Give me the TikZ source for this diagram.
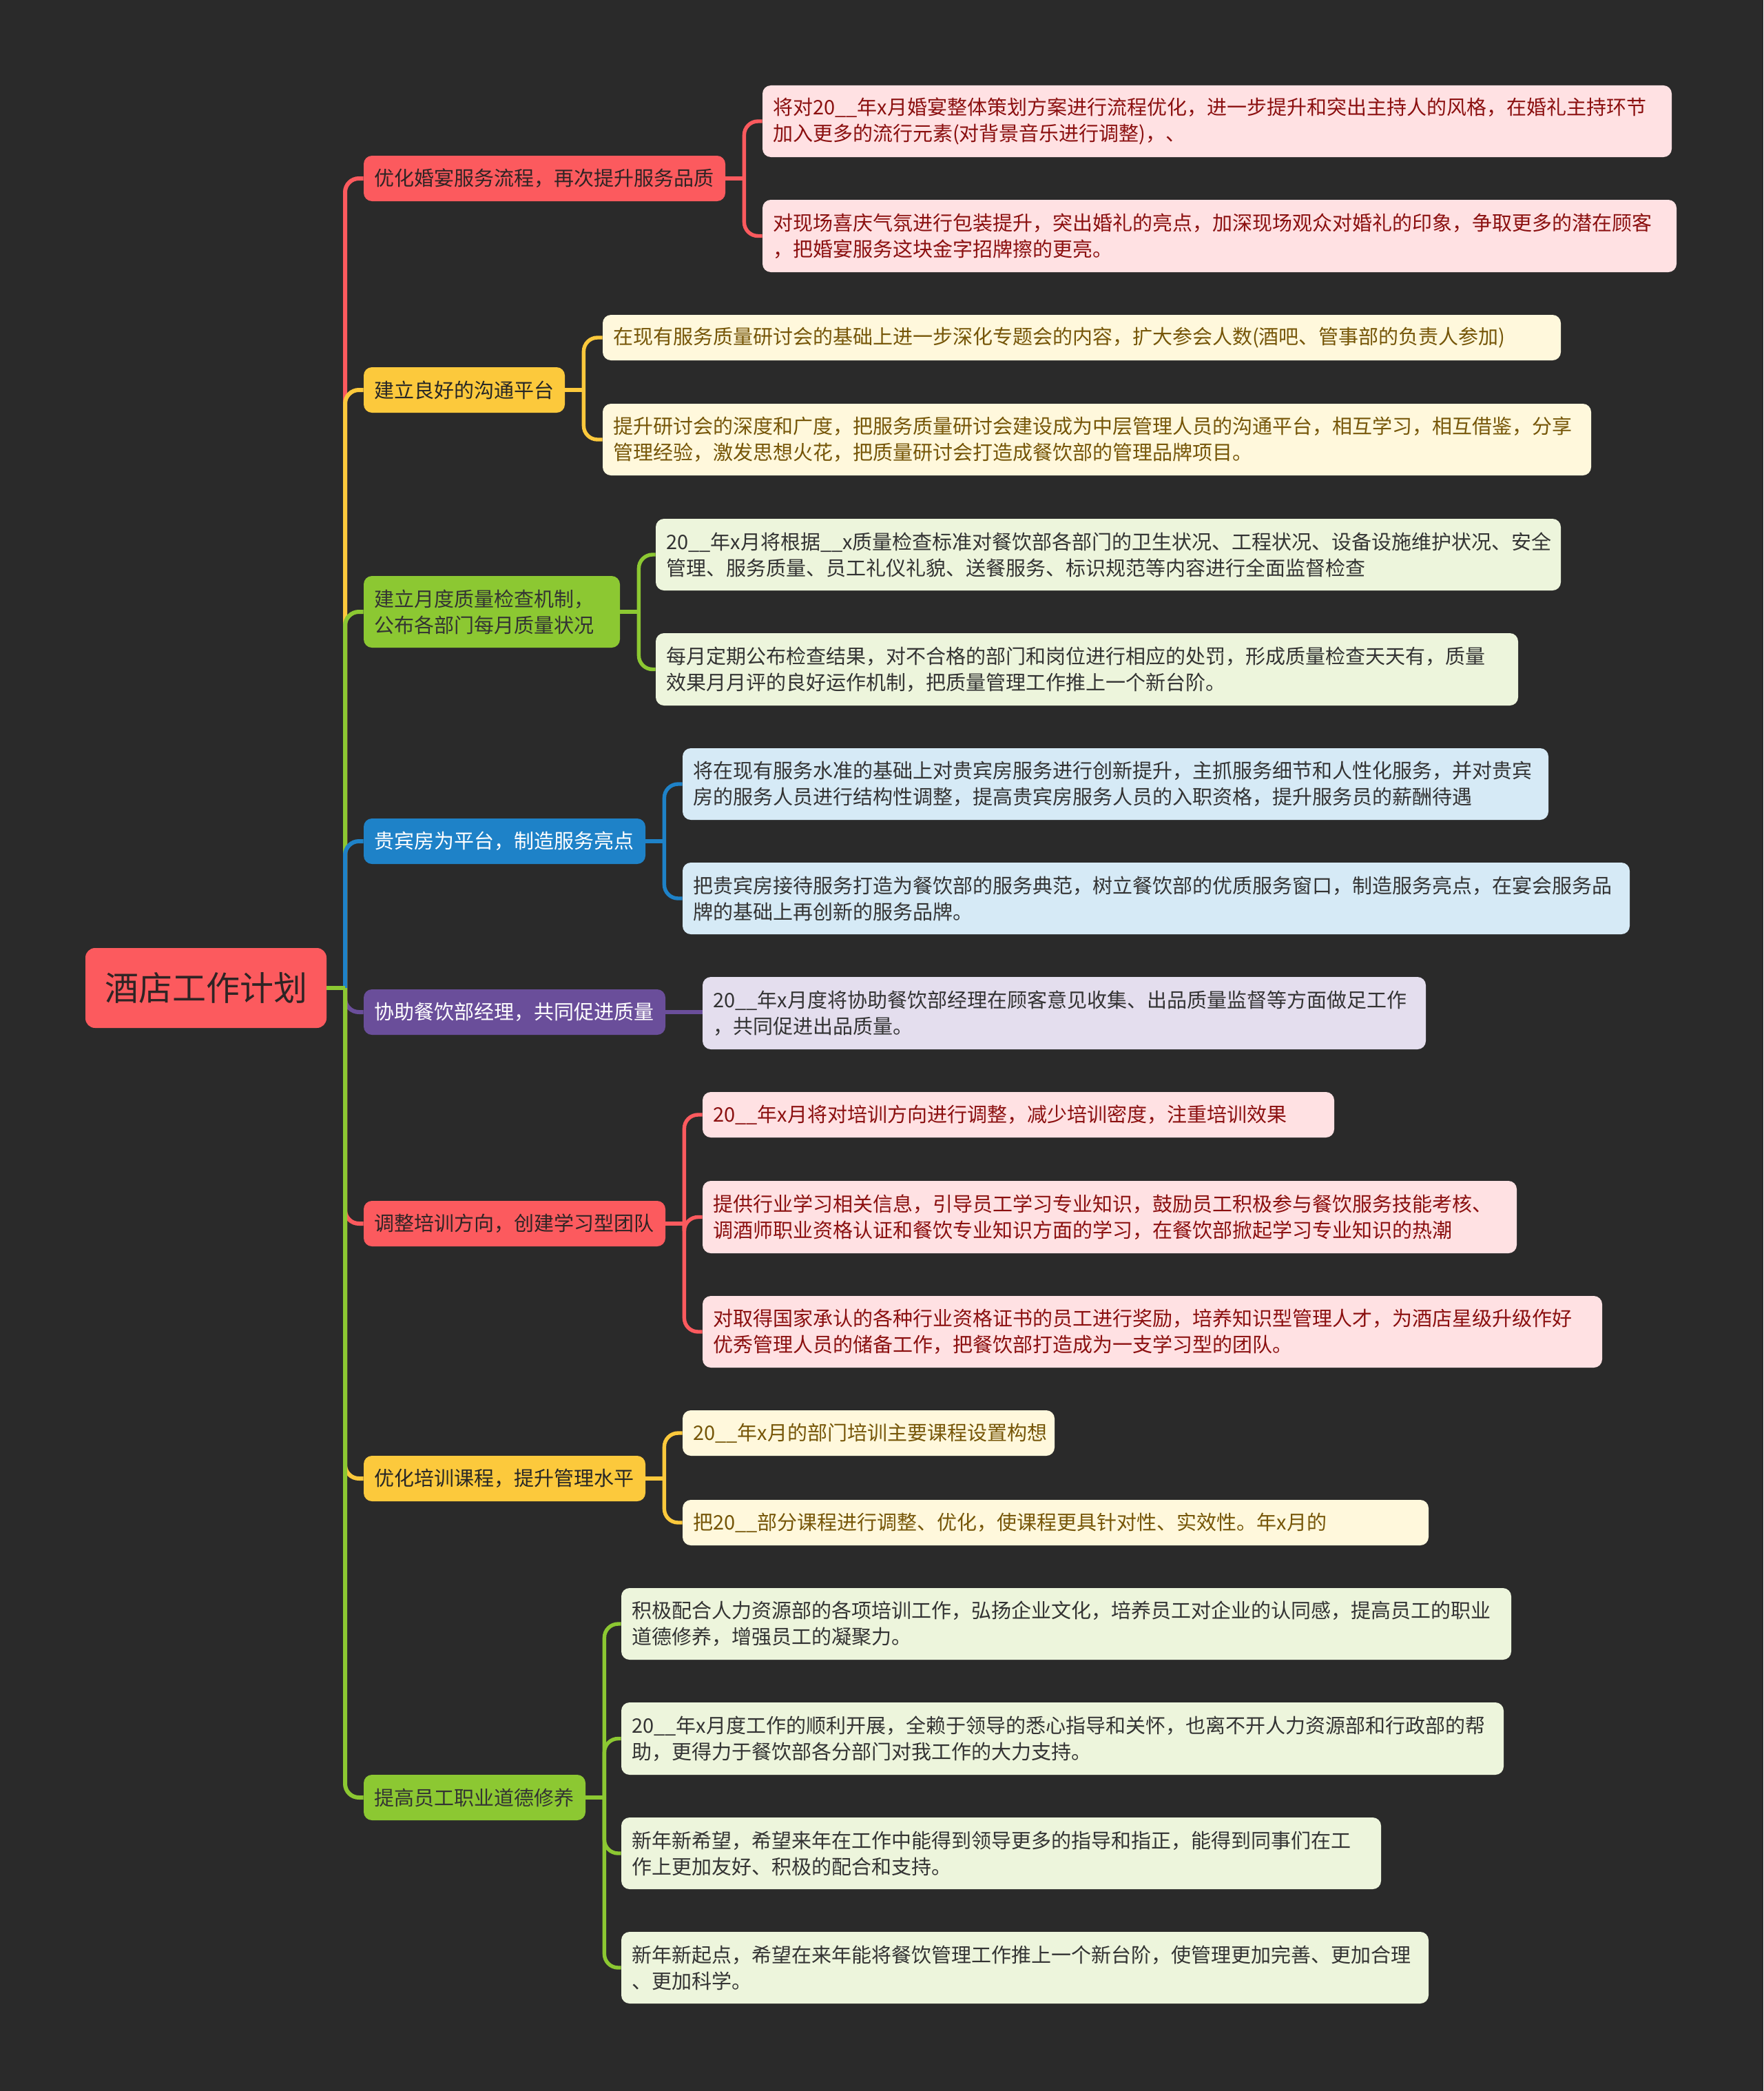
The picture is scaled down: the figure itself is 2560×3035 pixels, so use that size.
\documentclass[tikz,border=0pt]{standalone}
\usepackage{fontspec}
\setmainfont{Noto Sans CJK SC}
\definecolor{bgc}{HTML}{2A2A2A}
\definecolor{cRed}{HTML}{FC5A5E}
\definecolor{cYel}{HTML}{FCC93C}
\definecolor{cGrn}{HTML}{8CC832}
\definecolor{cBlu}{HTML}{1E82C8}
\definecolor{cPur}{HTML}{6A4E9A}
\definecolor{fRed}{HTML}{FFE1E3}
\definecolor{fYel}{HTML}{FFF8DC}
\definecolor{fGrn}{HTML}{EDF5DC}
\definecolor{fBlu}{HTML}{D6EAF6}
\definecolor{fPur}{HTML}{E4DEEE}
\definecolor{tRed}{HTML}{8B1010}
\definecolor{tYel}{HTML}{765608}
\definecolor{tDark}{HTML}{333333}
\definecolor{tL1}{HTML}{2E2424}
\newcommand\mmbox[7]{%
  \pgfmathsetlengthmacro\mmtw{(#4-30)*0.5}%
  \pgfmathsetlengthmacro\mmht{#5*0.5}%
  \node[#6, text width=\mmtw, minimum height=\mmht] (#1) at ({#2+#4/2},{#3+#5/2}) {#7};%
}
\begin{document}
\begin{tikzpicture}[x=0.5pt,y=-0.5pt,
  boxbase/.style={rounded corners=6pt, inner xsep=7.5pt, inner ysep=3pt, align=left,
    font=\fontsize{14.5pt}{19pt}\selectfont},
  lred/.style={boxbase, fill=cRed, text=tL1},
  lyel/.style={boxbase, fill=cYel, text=black!85},
  lgrn/.style={boxbase, fill=cGrn, text=black!80},
  lblu/.style={boxbase, fill=cBlu, text=white},
  lpur/.style={boxbase, fill=cPur, text=white},
  sred/.style={boxbase, fill=fRed, text=tRed},
  syel/.style={boxbase, fill=fYel, text=tYel},
  sgrn/.style={boxbase, fill=fGrn, text=tDark},
  sblu/.style={boxbase, fill=fBlu, text=tDark},
  spur/.style={boxbase, fill=fPur, text=tDark},
  trunkline/.style={line width=3pt, rounded corners=10pt},
  brkline/.style={line width=2.7pt, rounded corners=10pt},
]
\fill[bgc] (0,0) rectangle (2560,3035);
\useasboundingbox (0,0) rectangle (2560,3035);

% root
\node[rounded corners=7pt, fill=cRed, text=tL1, minimum width=175pt, minimum height=58pt,
  inner sep=0pt, font=\fontsize{24.5pt}{28pt}\selectfont] (root) at (299,1434) {酒店工作计划};

% level 1
\mmbox{n1}{528}{226}{525}{66}{lred}{优化婚宴服务流程，再次提升服务品质}
\mmbox{n2}{528}{533}{292}{66}{lyel}{建立良好的沟通平台}
\mmbox{n3}{528}{836}{372}{104}{lgrn}{建立月度质量检查机制，\\公布各部门每月质量状况}
\mmbox{n4}{528}{1188}{409}{66}{lblu}{贵宾房为平台，制造服务亮点}
\mmbox{n5}{528}{1436}{438}{66}{lpur}{协助餐饮部经理，共同促进质量}
\mmbox{n6}{528}{1743}{438}{66}{lred}{调整培训方向，创建学习型团队}
\mmbox{n7}{528}{2113}{409}{66}{lyel}{优化培训课程，提升管理水平}
\mmbox{n8}{528}{2576}{322}{66}{lgrn}{提高员工职业道德修养}

% level 2
\mmbox{n1a}{1107}{124}{1320}{104}{sred}{将对20\_\_年x月婚宴整体策划方案进行流程优化，进一步提升和突出主持人的风格，在婚礼主持环节\\加入更多的流行元素(对背景音乐进行调整)，、}
\mmbox{n1b}{1107}{290}{1327}{105}{sred}{对现场喜庆气氛进行包装提升，突出婚礼的亮点，加深现场观众对婚礼的印象，争取更多的潜在顾客\\，把婚宴服务这块金字招牌擦的更亮。}
\mmbox{n2a}{875}{457}{1391}{66}{syel}{在现有服务质量研讨会的基础上进一步深化专题会的内容，扩大参会人数(酒吧、管事部的负责人参加)}
\mmbox{n2b}{875}{586}{1435}{104}{syel}{提升研讨会的深度和广度，把服务质量研讨会建设成为中层管理人员的沟通平台，相互学习，相互借鉴，分享\\管理经验，激发思想火花，把质量研讨会打造成餐饮部的管理品牌项目。}
\mmbox{n3a}{952}{753}{1314}{104}{sgrn}{20\_\_年x月将根据\_\_x质量检查标准对餐饮部各部门的卫生状况、工程状况、设备设施维护状况、安全\\管理、服务质量、员工礼仪礼貌、送餐服务、标识规范等内容进行全面监督检查}
\mmbox{n3b}{952}{919}{1252}{105}{sgrn}{每月定期公布检查结果，对不合格的部门和岗位进行相应的处罚，形成质量检查天天有，质量\\效果月月评的良好运作机制，把质量管理工作推上一个新台阶。}
\mmbox{n4a}{991}{1086}{1257}{104}{sblu}{将在现有服务水准的基础上对贵宾房服务进行创新提升，主抓服务细节和人性化服务，并对贵宾\\房的服务人员进行结构性调整，提高贵宾房服务人员的入职资格，提升服务员的薪酬待遇}
\mmbox{n4b}{991}{1252}{1375}{104}{sblu}{把贵宾房接待服务打造为餐饮部的服务典范，树立餐饮部的优质服务窗口，制造服务亮点，在宴会服务品\\牌的基础上再创新的服务品牌。}
\mmbox{n5a}{1020}{1418}{1050}{105}{spur}{20\_\_年x月度将协助餐饮部经理在顾客意见收集、出品质量监督等方面做足工作\\，共同促进出品质量。}
\mmbox{n6a}{1020}{1585}{917}{66}{sred}{20\_\_年x月将对培训方向进行调整，减少培训密度，注重培训效果}
\mmbox{n6b}{1020}{1714}{1182}{105}{sred}{提供行业学习相关信息，引导员工学习专业知识，鼓励员工积极参与餐饮服务技能考核、\\调酒师职业资格认证和餐饮专业知识方面的学习，在餐饮部掀起学习专业知识的热潮}
\mmbox{n6c}{1020}{1881}{1306}{104}{sred}{对取得国家承认的各种行业资格证书的员工进行奖励，培养知识型管理人才，为酒店星级升级作好\\优秀管理人员的储备工作，把餐饮部打造成为一支学习型的团队。}
\mmbox{n7a}{991}{2047}{540}{66}{syel}{20\_\_年x月的部门培训主要课程设置构想}
\mmbox{n7b}{991}{2177}{1083}{66}{syel}{把20\_\_部分课程进行调整、优化，使课程更具针对性、实效性。年x月的}
\mmbox{n8a}{902}{2305}{1292}{104}{sgrn}{积极配合人力资源部的各项培训工作，弘扬企业文化，培养员工对企业的认同感，提高员工的职业\\道德修养，增强员工的凝聚力。}
\mmbox{n8b}{902}{2471}{1281}{105}{sgrn}{20\_\_年x月度工作的顺利开展，全赖于领导的悉心指导和关怀，也离不开人力资源部和行政部的帮\\助，更得力于餐饮部各分部门对我工作的大力支持。}
\mmbox{n8c}{902}{2638}{1103}{104}{sgrn}{新年新希望，希望来年在工作中能得到领导更多的指导和指正，能得到同事们在工\\作上更加友好、积极的配合和支持。}
\mmbox{n8d}{902}{2804}{1172}{104}{sgrn}{新年新起点，希望在来年能将餐饮管理工作推上一个新台阶，使管理更加完善、更加合理\\、更加科学。}

% trunk
\coordinate (t0) at (501,1434);
\draw[trunkline, cRed] (t0) |- (n1.west);
\draw[trunkline, cYel] (t0) |- (n2.west);
\draw[trunkline, cGrn] (t0) |- (n3.west);
\draw[trunkline, cBlu] (t0) |- (n4.west);
\draw[trunkline, cPur] (t0) |- (n5.west);
\draw[trunkline, cRed] (t0) |- (n6.west);
\draw[trunkline, cYel] (t0) |- (n7.west);
\draw[trunkline, cGrn] (t0) |- (n8.west);
\draw[line width=3pt, cGrn] (root.east) -- (t0);

% brackets
\coordinate (b1) at ([xshift=13.5pt]n1.east);
\draw[brkline, cRed] (n1.east) -- (b1);
\draw[brkline, cRed] (b1) |- (n1a.west);
\draw[brkline, cRed] (b1) |- (n1b.west);

\coordinate (b2) at ([xshift=13.5pt]n2.east);
\draw[brkline, cYel] (n2.east) -- (b2);
\draw[brkline, cYel] (b2) |- (n2a.west);
\draw[brkline, cYel] (b2) |- (n2b.west);

\coordinate (b3) at ([xshift=13.5pt]n3.east);
\draw[brkline, cGrn] (n3.east) -- (b3);
\draw[brkline, cGrn] (b3) |- (n3a.west);
\draw[brkline, cGrn] (b3) |- (n3b.west);

\coordinate (b4) at ([xshift=13.5pt]n4.east);
\draw[brkline, cBlu] (n4.east) -- (b4);
\draw[brkline, cBlu] (b4) |- (n4a.west);
\draw[brkline, cBlu] (b4) |- (n4b.west);

\draw[brkline, cPur] (n5.east) -- (n5.east -| n5a.west);

\coordinate (b6) at ([xshift=13.5pt]n6.east);
\draw[brkline, cRed] (n6.east) -- (b6);
\draw[brkline, cRed] (b6) |- (n6a.west);
\draw[brkline, cRed] (b6) |- (n6b.west);
\draw[brkline, cRed] (b6) |- (n6c.west);

\coordinate (b7) at ([xshift=13.5pt]n7.east);
\draw[brkline, cYel] (n7.east) -- (b7);
\draw[brkline, cYel] (b7) |- (n7a.west);
\draw[brkline, cYel] (b7) |- (n7b.west);

\coordinate (b8) at ([xshift=13.5pt]n8.east);
\draw[brkline, cGrn] (n8.east) -- (b8);
\draw[brkline, cGrn] (b8) |- (n8a.west);
\draw[brkline, cGrn] (b8) |- (n8b.west);
\draw[brkline, cGrn] (b8) |- (n8c.west);
\draw[brkline, cGrn] (b8) |- (n8d.west);
\end{tikzpicture}
\end{document}
